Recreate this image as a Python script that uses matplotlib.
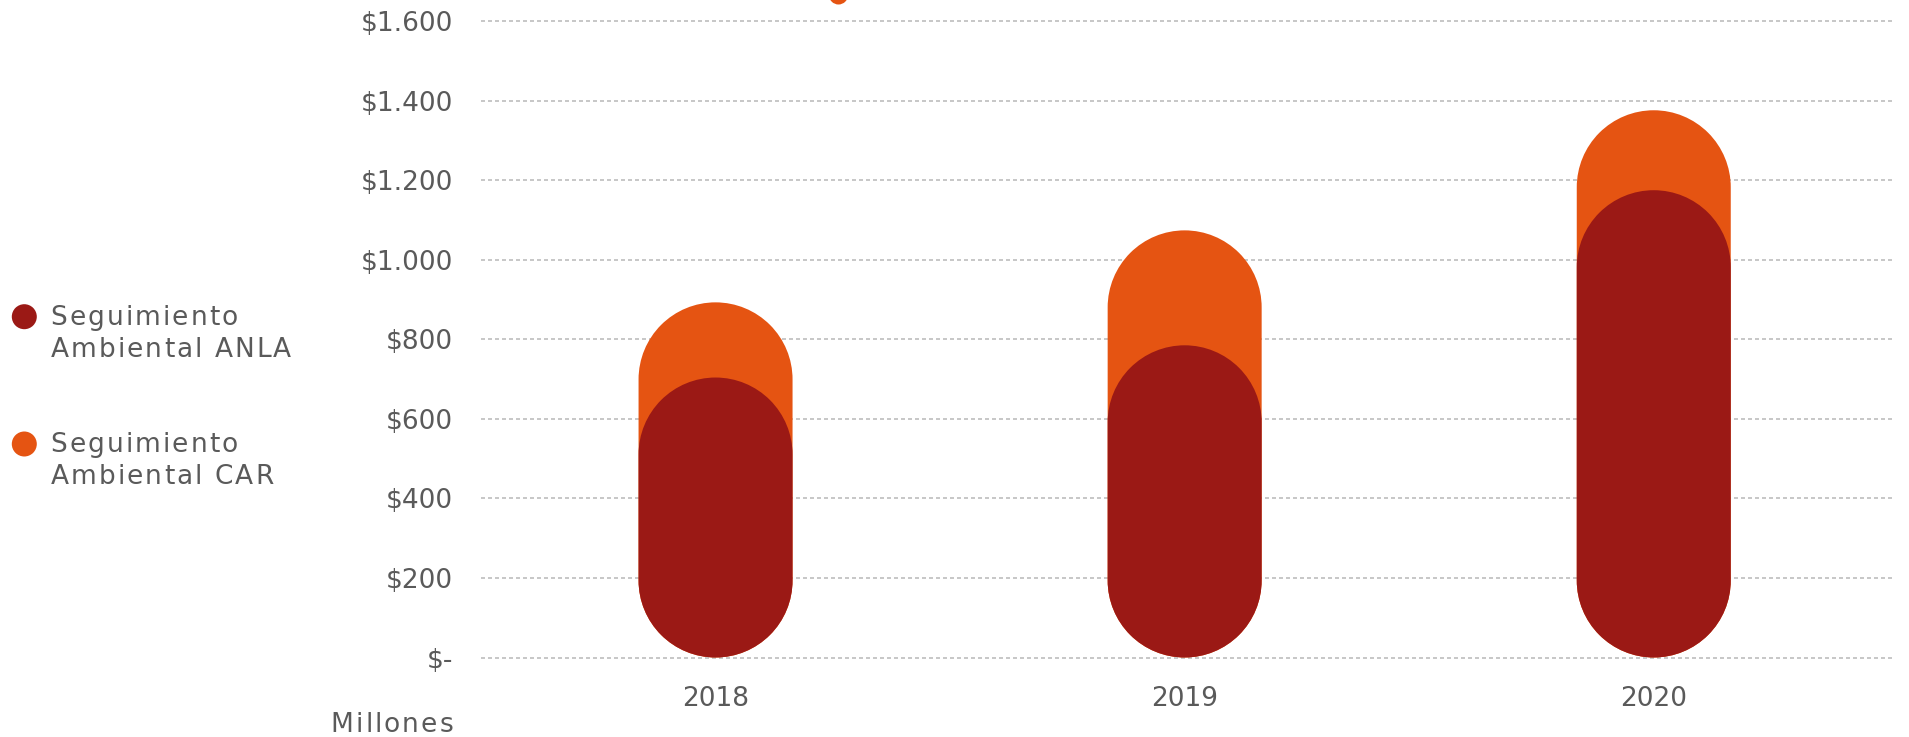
import numpy as np
import matplotlib
matplotlib.use("Agg")
import matplotlib.pyplot as plt
from matplotlib.path import Path
from matplotlib.patches import PathPatch, Ellipse
from matplotlib import font_manager
from matplotlib.font_manager import FontProperties
from matplotlib import ft2font

# data (millones de pesos)
years = ['2018', '2019', '2020']
anla = [704, 785, 1175]          # Seguimiento Ambiental ANLA
car = [189, 289, 201]            # Seguimiento Ambiental CAR (apilado sobre ANLA)
yticks = [0, 200, 400, 600, 800, 1000, 1200, 1400, 1600]
ytick_labels = ['$-', '$200', '$400', '$600', '$800', '$1.000', '$1.200', '$1.400', '$1.600']
series_names = [['Seguimiento', 'Ambiental ANLA'], ['Seguimiento', 'Ambiental CAR']]

RED = '#9B1915'
ORANGE = '#E55412'
TXT = '#5a5a5a'
GRID = '#bdbdbd'
FS = 19
TRACK = 2.1   # extra px between letters (letter-spaced labels)

plt.rcParams['font.family'] = ['DejaVu Sans']

W, H = 1909, 737
fig = plt.figure(figsize=(W / 100, H / 100), dpi=100)

try:
    NOHINT = ft2font.LoadFlags.NO_HINTING
except AttributeError:
    NOHINT = ft2font.LOAD_NO_HINTING
_font = font_manager.get_font(font_manager.findfont(FontProperties(family='DejaVu Sans')))
_font.set_size(FS, 100)


def advances(s):
    return [_font.load_char(ord(c), flags=NOHINT).linearHoriAdvance / 65536 for c in s]


def tracked(x, base, s, align='left'):
    adv = advances(s)
    total = sum(adv) + TRACK * (len(s) - 1)
    if align == 'right':
        x = x - total
    for c, a in zip(s, adv):
        fig.text(x / W, 1 - base / H, c, ha='left', va='baseline', fontsize=FS, color=TXT)
        x += a + TRACK


# axes placement in pixels
x_left, x_right = 481, 1893
zero_from_top = 657.5
px_per_unit = 79.54 / 200
ylo, yhi = -20, 1640
bot = (H - zero_from_top) + ylo * px_per_unit
top = (H - zero_from_top) + yhi * px_per_unit
ax = fig.add_axes([x_left / W, bot / H, (x_right - x_left) / W, (top - bot) / H])
ax.set_xlim(-0.5, 2.51)
ax.set_ylim(ylo, yhi)

xunits_per_px = 3.01 / (x_right - x_left)
yunits_per_px = 1 / px_per_unit
bar_w = 154 * xunits_per_px


def pill(ax, xc, height, w, color, z):
    rx = w / 2
    ry = rx * yunits_per_px / xunits_per_px
    low = Path.arc(180, 360)
    high = Path.arc(0, 180)
    v1 = low.vertices * [rx, ry] + [xc, ry]
    v2 = high.vertices * [rx, ry] + [xc, height - ry]
    c1 = list(low.codes)
    c2 = list(high.codes)
    c2[0] = Path.LINETO
    verts = np.vstack([v1, v2, v1[:1]])
    codes = c1 + c2 + [Path.CLOSEPOLY]
    ax.add_patch(PathPatch(Path(verts, codes), facecolor=color, edgecolor='none', zorder=z))


for i in range(len(years)):
    pill(ax, i, anla[i] + car[i], bar_w, ORANGE, 2)
    pill(ax, i, anla[i], bar_w, RED, 3)

ax.set_yticks(yticks)
ax.set_yticklabels(ytick_labels)
ax.set_xticks(range(len(years)))
ax.set_xticklabels(years)
ax.tick_params(axis='y', length=0, pad=20, labelsize=FS, labelcolor=TXT)
ax.tick_params(axis='x', length=0, pad=15, labelsize=FS, labelcolor=TXT)
for s in ax.spines.values():
    s.set_visible(False)
ax.set_axisbelow(True)
ax.yaxis.grid(True, color=GRID, linewidth=1.2, linestyle=(0, (2.4, 1.8)))
ax.xaxis.grid(False)

# y axis unit
tracked(453, 731.5, 'Millones', align='right')

# legend
for lines, col, yc, bases in zip(series_names, [RED, ORANGE], [316.7, 444],
                                 [(325, 356.7), (452.3, 484)]):
    fig.add_artist(Ellipse((24.3 / W, 1 - yc / H), 25 / W, 25 / H, transform=fig.transFigure,
                           facecolor=col, edgecolor='none'))
    for line, b in zip(lines, bases):
        tracked(50.5, b, line)

# small marker cut at the top edge
fig.add_artist(Ellipse((838.5 / W, 1 + 5 / H), 19 / W, 19 / H, transform=fig.transFigure,
                       facecolor=ORANGE, edgecolor='none'))

plt.savefig('out.png', dpi=100)
plt.close()
